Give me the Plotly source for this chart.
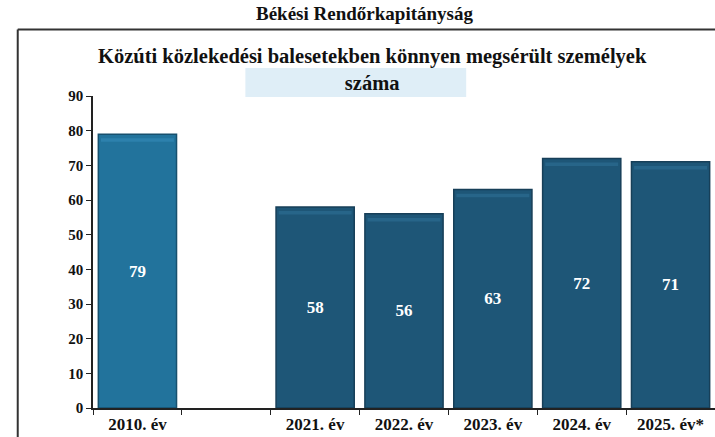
import plotly.graph_objects as go

# Könnyű sérültek száma évenként (a 2010-es bázisév után üres hely)
categories = ["2010. év", " ", "2021. év", "2022. év", "2023. év", "2024. év", "2025. év*"]
values = [79, None, 58, 56, 63, 72, 71]
bar_colors = ["#22739c", "#1e5677", "#1e5677", "#1e5677", "#1e5677", "#1e5677", "#1e5677"]
edge_colors = ["#17506e", "#173f58", "#173f58", "#173f58", "#173f58", "#173f58", "#173f58"]
bevel_colors = ["#2d81ad", "#276589", "#276589", "#276589", "#276589", "#276589", "#276589"]

y_ticks = [0, 10, 20, 30, 40, 50, 60, 70, 80, 90]

serif = "Liberation Serif, Times New Roman, serif"
bevel = 1.0  # a sávok tetején futó világosabb perem vastagsága (adategységben)

fig = go.Figure()
fig.add_trace(go.Bar(
    x=categories,
    y=values,
    marker=dict(color=bar_colors, line=dict(color=edge_colors, width=1.5)),
    text=[str(v) if v is not None else "" for v in values],
    textposition="inside",
    insidetextanchor="middle",
    textfont=dict(family=serif, size=17, color="white", weight="bold"),
    textangle=0,
    hoverinfo="skip",
))
# világosabb perem a sávok tetején
fig.add_trace(go.Bar(
    x=categories,
    y=[bevel if v is not None else None for v in values],
    base=[v - 2.2 * bevel if v is not None else None for v in values],
    marker=dict(color=bevel_colors, line=dict(width=0)),
    width=0.82,
    hoverinfo="skip",
))

fig.update_layout(
    width=715,
    height=437,
    margin=dict(l=93, r=0, t=96, b=29),
    paper_bgcolor="white",
    plot_bgcolor="white",
    barmode="overlay",
    bargap=0.12,
    showlegend=False,
    font=dict(family=serif, color="#111"),
    xaxis=dict(
        categoryorder="array",
        categoryarray=categories,
        showline=True,
        linecolor="#222",
        linewidth=1.5,
        ticks="outside",
        tickson="boundaries",
        ticklen=5,
        tickcolor="#222",
        tickfont=dict(family=serif, size=17, color="#111", weight="bold"),
        showgrid=False,
        zeroline=False,
        fixedrange=True,
    ),
    yaxis=dict(
        range=[0, 90],
        tickvals=y_ticks,
        showline=True,
        linecolor="#222",
        linewidth=1.5,
        ticks="outside",
        ticklen=5,
        tickcolor="#222",
        tickfont=dict(family=serif, size=15, color="#111", weight="bold"),
        showgrid=False,
        zeroline=False,
        fixedrange=True,
    ),
)

# Keret a diagram körül (bal és felső oldal)
fig.add_shape(type="line", xref="paper", yref="paper",
              x0=-0.121, x1=-0.121, y0=-0.094, y1=1.213,
              line=dict(color="#333", width=2))
fig.add_shape(type="line", xref="paper", yref="paper",
              x0=-0.121, x1=1.0, y0=1.213, y1=1.213,
              line=dict(color="#333", width=2))

# Halvány kék sáv a cím mögött
fig.add_shape(type="rect", xref="paper", yref="paper",
              x0=0.245, x1=0.6, y0=0.997, y1=1.09,
              line=dict(width=0), fillcolor="rgba(150,200,228,0.3)", layer="below")

# Fejléc és diagramcím
fig.add_annotation(text="Békési Rendőrkapitányság", xref="paper", yref="paper",
                   x=0.437, y=1.263, yanchor="middle", showarrow=False,
                   font=dict(family=serif, size=19, color="#111", weight="bold"))
fig.add_annotation(text="Közúti közlekedési balesetekben könnyen megsérült személyek<br>száma",
                   xref="paper", yref="paper", x=0.449, y=1.085, yanchor="middle",
                   showarrow=False, align="center",
                   font=dict(family=serif, size=20.5, color="#111", weight="bold"))

fig.write_html("out.html")
